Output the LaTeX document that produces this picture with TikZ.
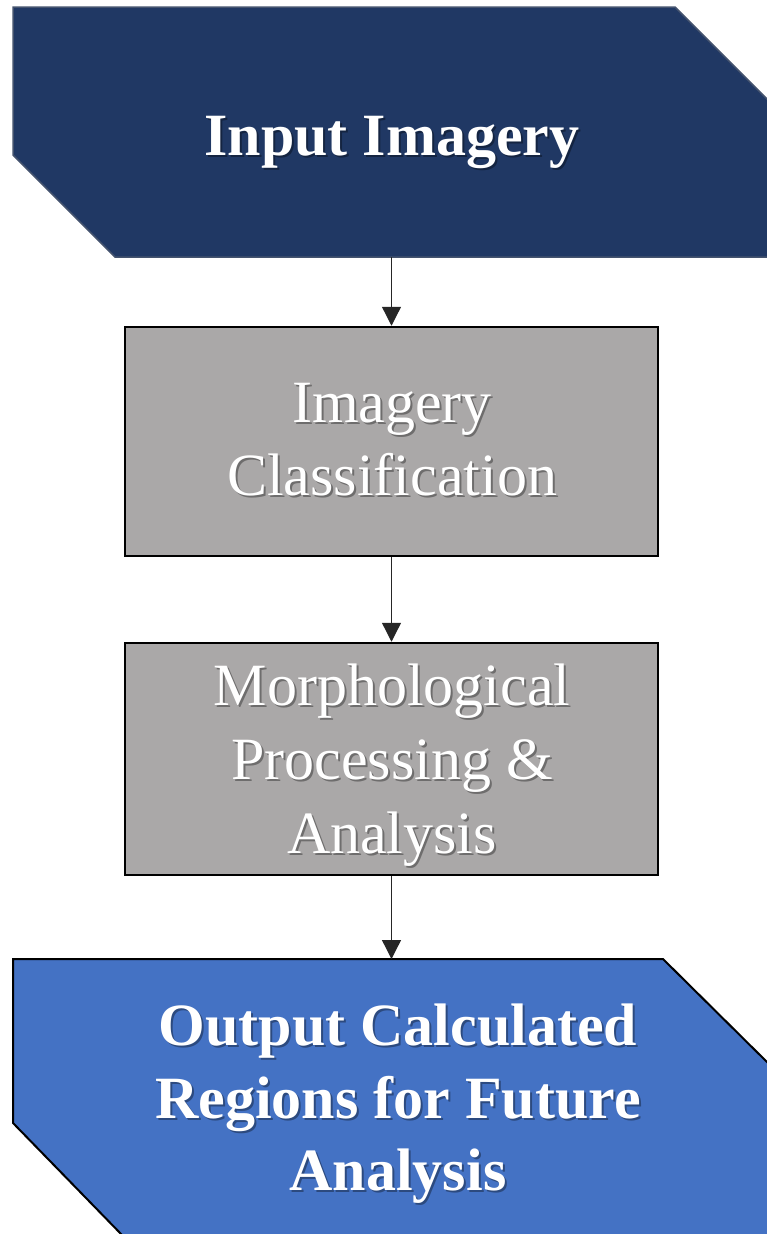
\documentclass[tikz,border=0pt]{standalone}
\usepackage{fontspec}
\setmainfont{Liberation Serif}
\usetikzlibrary{arrows.meta}

\definecolor{navyfill}{HTML}{203864}
\definecolor{navyedge}{HTML}{44536E}
\definecolor{stepgray}{HTML}{AAA8A8}
\definecolor{outblue}{HTML}{4472C4}

\begin{document}
\begin{tikzpicture}[x=1pt,y=-1pt,
  bigtext/.style={align=center, inner sep=0pt,
    font=\fontsize{60}{72}\selectfont},
  labeltext/.style={bigtext, text=white},
  shadowtext/.style={bigtext, text=black, opacity=0.35},
  stepbox/.style={draw=black, line width=2.5pt, fill=stepgray,
    minimum width=533pt, inner sep=0pt},
  flow/.style={draw=black!85, line width=1.3pt,
    -{Triangle[width=19pt,length=19pt]}}
]
\useasboundingbox (0,0) rectangle (766,1234);

% input banner (corner-cut pentagon)
\draw[fill=navyfill, draw=navyedge, line width=1.5pt]
  (13,7) -- (675,7) -- (768,100) -- (768,257) -- (115,257) -- (13,155) -- cycle;
\coordinate (input-out) at (391.5,257);
\node[shadowtext, font=\fontsize{60}{72}\selectfont\bfseries, anchor=base]
  (input-shadow) at (394,157) {Input Imagery};
\node[labeltext, font=\fontsize{60}{72}\selectfont\bfseries, anchor=base]
  (input) at (392,155) {Input Imagery};

% processing steps
\node[stepbox, minimum height=229pt] (classify) at (391.5,441.5) {};
\node[shadowtext, font=\fontsize{60}{73}\selectfont] (classify-shadow) at (394,442)
  {Imagery\\Classification};
\node[labeltext, font=\fontsize{60}{73}\selectfont] (classify-text) at (392,440)
  {Imagery\\Classification};

\node[stepbox, minimum height=232pt] (morph) at (391.5,759) {};
\node[shadowtext, font=\fontsize{60}{74}\selectfont] (morph-shadow) at (394,767.5)
  {Morphological\\Processing \&\\Analysis};
\node[labeltext, font=\fontsize{60}{74}\selectfont] (morph-text) at (392,765.5)
  {Morphological\\Processing \&\\Analysis};

% output banner
\draw[fill=outblue, draw=black, line width=2pt]
  (13,959) -- (663,959) -- (768,1063) -- (768,1236) -- (123,1236) -- (13,1123) -- cycle;
\coordinate (output-in) at (391.5,959);
\node[shadowtext, font=\fontsize{60}{72.5}\selectfont\bfseries] (output-shadow)
  at (400,1106) {Output Calculated\\Regions for Future\\Analysis};
\node[labeltext, font=\fontsize{60}{72.5}\selectfont\bfseries] (output)
  at (398,1104) {Output Calculated\\Regions for Future\\Analysis};

% connectors
\draw[flow] (input-out) -- (classify.north);
\draw[flow] (classify.south) -- (morph.north);
\draw[flow] (morph.south) -- (output-in);
\end{tikzpicture}
\end{document}
